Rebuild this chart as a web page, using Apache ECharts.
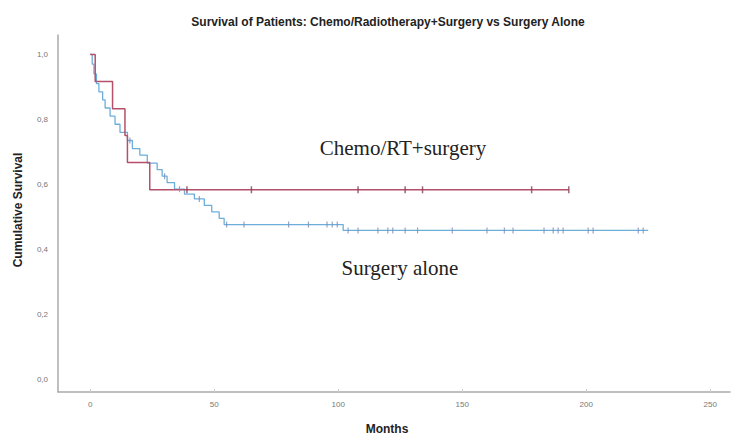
<!DOCTYPE html>
<html><head><meta charset="utf-8">
<script src="https://cdn.jsdelivr.net/npm/echarts@6/dist/echarts.min.js"></script>
<style>html,body{margin:0;padding:0;background:#fff}#c{width:735px;height:435px}</style>
</head><body><div id="c"></div>
<script>
// Chemo/RT + surgery (Kaplan-Meier steps)
const chemoMonths   = [0, 2, 9, 14, 15, 24, 193];
const chemoSurvival = [1.0, 0.917, 0.833, 0.75, 0.667, 0.583, 0.583];
const chemoCensored = [39, 65, 108, 127, 134, 178, 193];

// Surgery alone
const surgMonths   = [0, 0.8, 1.5, 2.5, 3.5, 5, 6, 8, 10, 12, 15, 17, 20, 23, 27, 29, 31, 34, 38, 42, 46, 49, 52, 54, 102, 225];
const surgSurvival = [1.0, 0.97, 0.94, 0.91, 0.885, 0.86, 0.835, 0.81, 0.785, 0.76, 0.735, 0.71, 0.69, 0.665, 0.645, 0.625, 0.605, 0.585, 0.57, 0.555, 0.535, 0.515, 0.495, 0.476, 0.458, 0.458];
const surgCensored = [16, 30, 36, 44, 55, 62, 80, 88, 95.5, 97.6, 99.6, 104, 108, 116, 120, 122, 127, 132, 146, 160, 167, 170.5, 183, 186.7, 188.7, 190.7, 200.8, 202.8, 221, 223];

const xTicks = [0, 50, 100, 150, 200, 250];
const yTicks = [0, 0.2, 0.4, 0.6, 0.8, 1.0];

function stepVal(ms, vs, t) { let v = vs[0]; for (let i = 0; i < ms.length; i++) { if (ms[i] <= t) v = vs[i]; } return v; }
const pairs = (a, b) => a.map((m, i) => [m, b[i]]);
const cens = (c, ms, vs) => c.map(m => [m, stepVal(ms, vs, m)]);

const RED = '#b4506a', BLUE = '#6caedb';
const chart = echarts.init(document.getElementById('c'), null, { renderer: 'svg' });
chart.setOption({
  animation: false,
  grid: { left: 58, right: 5, top: 35, bottom: 43 },
  xAxis: {
    type: 'value', min: -13, max: 258,
    axisLine: { onZero: false, lineStyle: { color: '#aaaaaa', width: 1.5 } },
    axisTick: { show: true, customValues: xTicks, length: 3, inside: true, lineStyle: { color: '#cccccc' } },
    axisLabel: { customValues: xTicks, color: '#777', fontSize: 8, fontFamily: 'Liberation Sans', margin: 8 },
    splitLine: { show: false }
  },
  yAxis: {
    type: 'value', min: -0.04, max: 1.06,
    axisLine: { show: true, onZero: false, lineStyle: { color: '#aaaaaa', width: 1.5 } },
    axisTick: { show: false },
    axisLabel: { customValues: yTicks, color: '#777', fontSize: 8, fontFamily: 'Liberation Sans', margin: 10,
      formatter: v => v.toFixed(1).replace('.', ',') },
    splitLine: { show: false }
  },
  series: [
    { type: 'line', step: 'end', data: pairs(surgMonths, surgSurvival), showSymbol: false,
      lineStyle: { color: BLUE, width: 1.3 }, z: 2 },
    { type: 'line', step: 'end', data: pairs(chemoMonths, chemoSurvival), showSymbol: false,
      lineStyle: { color: RED, width: 1.5 }, z: 3 },
    { type: 'scatter', data: cens(surgCensored, surgMonths, surgSurvival), symbol: 'rect', symbolSize: [1.2, 6],
      itemStyle: { color: '#7a8fb8' }, z: 4 },
    { type: 'scatter', data: cens(chemoCensored, chemoMonths, chemoSurvival), symbol: 'rect', symbolSize: [1.5, 7],
      itemStyle: { color: '#8a4055' }, z: 5 }
  ],
  graphic: [
    { type: 'text', x: 388, y: 22, style: { text: 'Survival of Patients: Chemo/Radiotherapy+Surgery vs Surgery Alone',
      font: 'bold 12px "Liberation Sans", Arial', fill: '#222', align: 'center', verticalAlign: 'middle' } },
    { type: 'text', x: 387, y: 429, style: { text: 'Months', font: 'bold 12px "Liberation Sans", Arial', fill: '#222', align: 'center', verticalAlign: 'middle' } },
    { type: 'text', x: 18, y: 210, rotation: Math.PI / 2, style: { text: 'Cumulative Survival', font: 'bold 12px "Liberation Sans", Arial', fill: '#222', align: 'center', verticalAlign: 'middle' } },
    { type: 'text', x: 403, y: 148, style: { text: 'Chemo/RT+surgery', font: '21px "Liberation Serif", "Times New Roman"', fill: '#222', align: 'center', verticalAlign: 'middle' } },
    { type: 'text', x: 400, y: 268, style: { text: 'Surgery alone', font: '21px "Liberation Serif", "Times New Roman"', fill: '#222', align: 'center', verticalAlign: 'middle' } }
  ]
});
</script></body></html>
